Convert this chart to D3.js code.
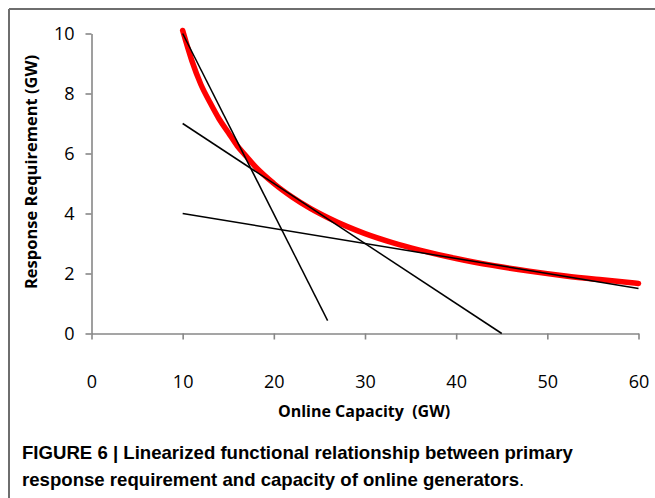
<!DOCTYPE html>
<html>
<head>
<meta charset="utf-8">
<script src="https://cdn.jsdelivr.net/npm/d3@7"></script>
<style>
  html, body { margin: 0; padding: 0; background: #fff; }
  svg { display: block; }
</style>
</head>
<body>
<svg id="chart" width="655" height="498"></svg>
<script>
// Figure 6 — primary response requirement vs online capacity, with three linear segments

// red curve
const capacity = [10, 11, 12, 13, 14, 15, 16, 17, 18, 20, 22, 24, 26, 28, 30, 33, 36, 40, 44, 48, 52, 56, 60];
const requirement = [10.1, 9.1, 8.3, 7.7, 7.15, 6.7, 6.25, 5.9, 5.55, 5.0, 4.55, 4.17, 3.85, 3.57, 3.33, 3.03, 2.78, 2.5, 2.27, 2.08, 1.92, 1.79, 1.67];

// black linearisation segments: [x1, y1, x2, y2] in data units
const segments = [
  [10, 10, 25.9, 0.43],
  [10, 7, 45, 0],
  [10, 4, 60, 1.5]
];

const xTicks = [0, 10, 20, 30, 40, 50, 60];
const yTicks = [0, 2, 4, 6, 8, 10];

const xTitle = "Online Capacity  (GW)";
const yTitle = "Response Requirement (GW)";
const captionBold1 = "FIGURE 6 | Linearized functional relationship between primary";
const captionBold2 = "response requirement and capacity of online generators";

const svg = d3.select("#chart");
const axisColor = "#878787";
const tickFont = "'Open Sans', sans-serif";

const x = d3.scaleLinear().domain([0, 60]).range([91.5, 638.5]);
const y = d3.scaleLinear().domain([0, 10]).range([333.5, 33.5]);

// outer frame: only top and left edges are visible
svg.append("line").attr("x1", 9).attr("x2", 655).attr("y1", 9).attr("y2", 9)
  .attr("stroke", "#6e6e6e").attr("stroke-width", 2);
svg.append("line").attr("x1", 9).attr("x2", 9).attr("y1", 9).attr("y2", 498)
  .attr("stroke", "#6e6e6e").attr("stroke-width", 2);

// axes
const gx = svg.append("g").attr("transform", `translate(0,${y(0)})`)
  .call(d3.axisBottom(x).tickValues(xTicks).tickSize(6).tickPadding(36).tickSizeOuter(0));
const gy = svg.append("g").attr("transform", `translate(${x(0)},0)`)
  .call(d3.axisLeft(y).tickValues(yTicks).tickSize(6).tickPadding(11).tickSizeOuter(0));

[gx, gy].forEach((g) => {
  g.select(".domain").attr("stroke", axisColor).attr("stroke-width", 1.6);
  g.selectAll(".tick line").attr("stroke", axisColor).attr("stroke-width", 1.6);
  g.selectAll(".tick text").attr("fill", "#000").style("font-family", tickFont).style("font-size", "18px");
});

// red response curve
const line = d3.line().x((d) => x(d[0])).y((d) => y(d[1])).curve(d3.curveMonotoneX);
svg.append("path")
  .datum(capacity.map((c, i) => [c, requirement[i]]))
  .attr("d", line)
  .attr("fill", "none").attr("stroke", "#ff0000").attr("stroke-width", 5.5)
  .attr("stroke-linecap", "round").attr("stroke-linejoin", "round");

// black linear segments drawn on top
svg.selectAll(".seg").data(segments).join("line")
  .attr("class", "seg")
  .attr("x1", (d) => x(d[0])).attr("y1", (d) => y(d[1]))
  .attr("x2", (d) => x(d[2])).attr("y2", (d) => y(d[3]))
  .attr("stroke", "#000").attr("stroke-width", 1.5);

// axis titles
svg.append("text")
  .attr("x", 364).attr("y", 417).attr("text-anchor", "middle")
  .style("font-family", tickFont).style("font-weight", "bold").style("font-size", "16px")
  .style("white-space", "pre").attr("xml:space", "preserve")
  .text(xTitle);

svg.append("text")
  .attr("transform", "translate(37,172) rotate(-90)").attr("text-anchor", "middle")
  .style("font-family", tickFont).style("font-weight", "bold").style("font-size", "16.5px")
  .text(yTitle);

// figure caption
const cap = svg.append("g")
  .style("font-family", "'Liberation Sans', Arial, sans-serif").style("font-size", "18.6px");
cap.append("text").attr("x", 22).attr("y", 459).style("font-weight", "bold").text(captionBold1);
const l2 = cap.append("text").attr("x", 22).attr("y", 486);
l2.append("tspan").style("font-weight", "bold").text(captionBold2);
l2.append("tspan").text(".");
</script>
</body>
</html>
